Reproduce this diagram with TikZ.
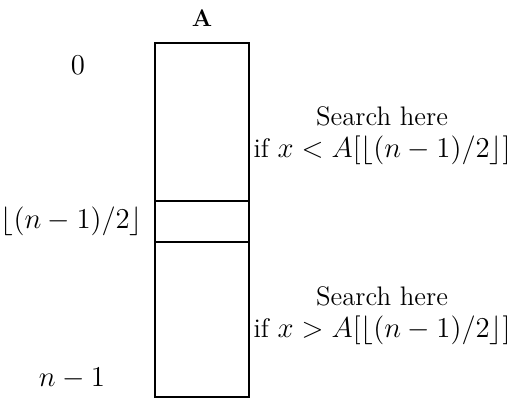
\documentclass[tikz,border=0pt]{standalone}
\usetikzlibrary{positioning}

\begin{document}
\begin{tikzpicture}[
  x=0.5pt,y=-0.5pt,
  font=\fontsize{13.4}{15}\selectfont,
  cell/.style={draw=black,line width=1.2pt,minimum width=47pt,
    inner sep=0pt,outer sep=0pt},
  index/.style={inner sep=0pt},
  hint/.style={align=center,inner sep=0pt}
]
  \useasboundingbox (0,0) rectangle (510,400);

  \node[cell,minimum height=79pt] (upper) at (202,122) {};
  \node[cell,minimum height=20.5pt,below=0pt of upper] (middle) {};
  \node[cell,minimum height=77.5pt,below=0pt of middle] (lower) {};

  \node[index,font=\fontsize{12}{14}\selectfont\bfseries,above=8pt of upper] (name) {A};

  \node[index] (first) at (78,65) {$0$};
  \node[index,left=6pt of middle] (mid) {$\lfloor (n-1)/2 \rfloor$};
  \node[index] (last) at (72,378) {$n-1$};

  \node[hint] (searchlow) at (382,136) {Search here\\[1pt]
    if $x < A\bigl[\lfloor (n-1)/2 \rfloor\bigr]$};
  \node[hint] (searchhigh) at (382,316) {Search here\\[1pt]
    if $x > A\bigl[\lfloor (n-1)/2 \rfloor\bigr]$};
\end{tikzpicture}
\end{document}
